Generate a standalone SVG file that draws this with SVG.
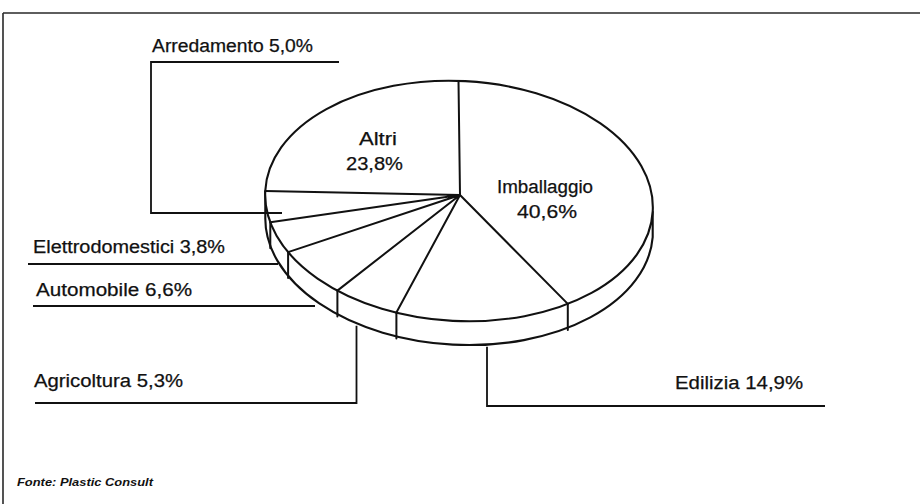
<svg xmlns="http://www.w3.org/2000/svg" width="920" height="504" viewBox="0 0 920 504">
<style>
.frame{fill:none;stroke:#2a2a2a;stroke-width:1.6}
.pie{fill:#fff;stroke:#111;stroke-width:2.1}
.edge{fill:none;stroke:#111;stroke-width:2;stroke-linecap:round}
.lead{fill:none;stroke:#111;stroke-width:1.8}
.lbl{font-family:"Liberation Sans",Arial,sans-serif;font-size:18px;fill:#111;stroke:#111;stroke-width:0.25}
.src{font-family:"Liberation Sans",Arial,sans-serif;font-size:11.5px;font-style:italic;font-weight:bold;fill:#111}
</style>
<rect width="920" height="504" fill="#fff"/>
<g id="frame">
<path class="frame" d="M3,13 L920,13 M3,13 L3,504"/>
</g>
<g id="pie">
<path class="pie" d="M265.3,190.9 L265.3,216.9 A194,120 3 0 0 652.7,237.2 L652.7,211.2 A194,120 3 0 1 265.3,190.9 Z"/>
<ellipse class="pie" cx="459" cy="201" rx="194" ry="120" transform="rotate(3 459 201)"/>
<g id="slice-lines">
<path class="edge" d="M460,195 L458.5,80.9 M460,195 L567.8,303.9 M460,195 L396.4,312.6 M460,195 L337.4,290.6 M460,195 L288.1,252.1 M460,195 L270.3,222.2 M460,195 L265.3,190.9"/>
</g>
<g id="side-walls">
<path class="edge" d="M567.8,303.9 L567.8,329.9 M396.4,312.6 L396.4,338.6 M337.4,290.6 L337.4,316.6 M288.1,252.1 L288.1,278.1 M270.3,222.2 L270.3,248.2"/>
</g>
</g>
<g id="connectors">
<path class="lead" d="M339,62 L151,62 L151,213 L282,213"/>
<path class="lead" d="M28,264 L278,264"/>
<path class="lead" d="M33,306 L315,306"/>
<path class="lead" d="M35,403 L356.5,403 L356.5,325.7"/>
<path class="lead" d="M825,406 L487,406 L487,346.8"/>
</g>
<g id="node-imballaggio">
<text class="lbl" x="497" y="193" textLength="96" lengthAdjust="spacingAndGlyphs">Imballaggio</text>
<text class="lbl" x="517" y="218" textLength="60" lengthAdjust="spacingAndGlyphs">40,6%</text>
</g>
<g id="node-altri">
<text class="lbl" x="359" y="145" textLength="38" lengthAdjust="spacingAndGlyphs">Altri</text>
<text class="lbl" x="346" y="170" textLength="57" lengthAdjust="spacingAndGlyphs">23,8%</text>
</g>
<g id="node-arredamento">
<text class="lbl" x="152" y="52" textLength="161" lengthAdjust="spacingAndGlyphs">Arredamento 5,0%</text>
</g>
<g id="node-elettrodomestici">
<text class="lbl" x="33" y="253" textLength="192" lengthAdjust="spacingAndGlyphs">Elettrodomestici 3,8%</text>
</g>
<g id="node-automobile">
<text class="lbl" x="36" y="296" textLength="156" lengthAdjust="spacingAndGlyphs">Automobile 6,6%</text>
</g>
<g id="node-agricoltura">
<text class="lbl" x="34" y="387" textLength="149" lengthAdjust="spacingAndGlyphs">Agricoltura 5,3%</text>
</g>
<g id="node-edilizia">
<text class="lbl" x="675" y="389" textLength="128" lengthAdjust="spacingAndGlyphs">Edilizia 14,9%</text>
</g>
<g id="source">
<text class="src" x="17" y="486" textLength="136" lengthAdjust="spacingAndGlyphs">Fonte: Plastic Consult</text>
</g>
</svg>
